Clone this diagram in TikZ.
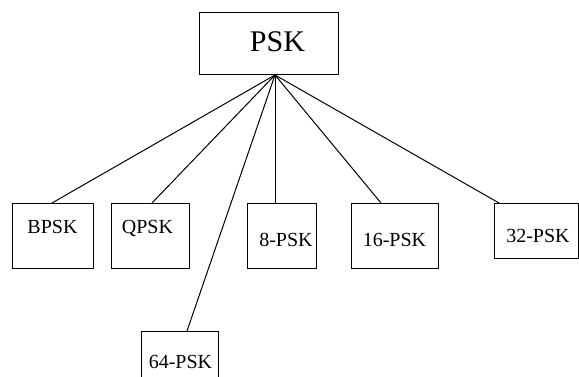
\documentclass[tikz,border=0pt]{standalone}
\usepackage{fontspec}
\setmainfont{Liberation Serif}
\usetikzlibrary{calc}
\tikzset{
  box/.style={draw, line width=1pt, inner sep=0pt, anchor=north west},
  lbl/.style={anchor=base, inner sep=0pt, font=\fontsize{20}{22}\selectfont},
  conn/.style={line width=1pt}
}
\begin{document}
\begin{tikzpicture}[x=1pt,y=-1pt]
\useasboundingbox (0,0) rectangle (579,377);
% boxes
\node[box, minimum width=139pt, minimum height=62pt] (psk) at (199,12) {};
\node[box, minimum width=81pt, minimum height=65pt] (bpsk) at (12,203) {};
\node[box, minimum width=78pt, minimum height=65pt] (qpsk) at (111,203) {};
\node[box, minimum width=69pt, minimum height=65pt] (p8) at (247,203) {};
\node[box, minimum width=87pt, minimum height=65pt] (p16) at (351,203) {};
\node[box, minimum width=84pt, minimum height=55pt] (p32) at (494,203) {};
\node[box, minimum width=77pt, minimum height=60pt] (p64) at (141,331) {};
% labels
\node[anchor=base, inner sep=0pt, font=\fontsize{30}{32}\selectfont] (tpsk) at (277.5,51.7) {PSK};
\node[lbl] (tbpsk) at (52.5,233.3) {BPSK};
\node[lbl] (tqpsk) at (147.5,233.3) {QPSK};
\node[lbl] (t8) at (286,247) {8-PSK};
\node[lbl] (t16) at (394.5,247) {16-PSK};
\node[lbl] (t32) at (538,243) {32-PSK};
\node[lbl] (t64) at (180.5,368) {64-PSK};
% connectors
\coordinate (apex) at ($(psk.south west)+(76,0)$);
\draw[conn] (apex) -- ($(bpsk.north west)+(40,0)$);
\draw[conn] (apex) -- ($(qpsk.north west)+(41,0)$);
\draw[conn] (apex) -- ($(p8.north west)+(28,0)$);
\draw[conn] (apex) -- ($(p16.north west)+(30,0)$);
\draw[conn] (apex) -- ($(p32.north west)+(5,0)$);
\draw[conn] (apex) -- ($(p64.north west)+(46,0)$);
\end{tikzpicture}
\end{document}
